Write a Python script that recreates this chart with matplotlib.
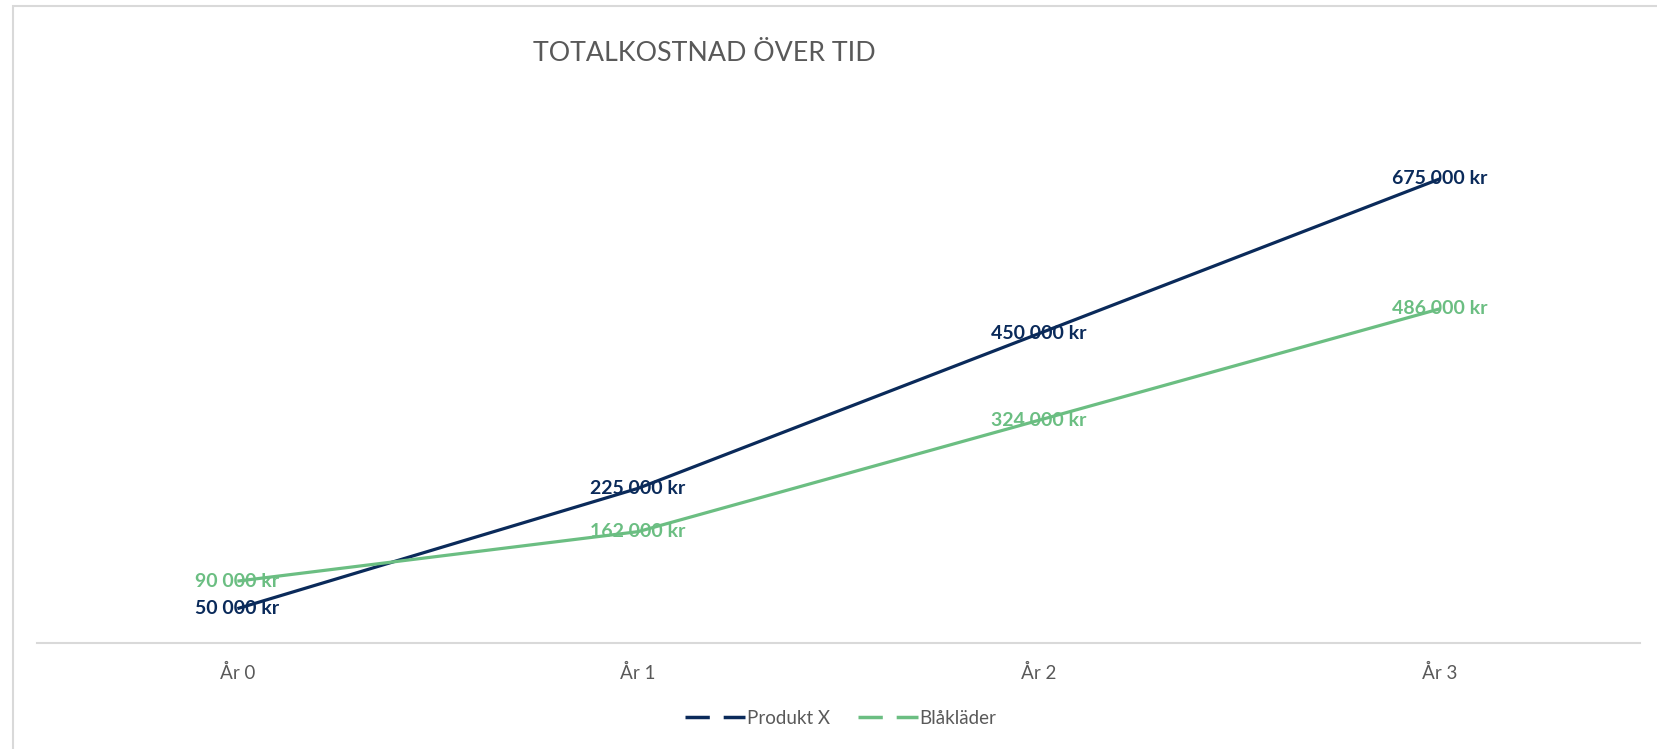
import matplotlib.pyplot as plt
from matplotlib.lines import Line2D
from matplotlib.patches import Rectangle

# data
years = ["År 0", "År 1", "År 2", "År 3"]
produkt_x = [50000, 225000, 450000, 675000]
blaklader = [90000, 162000, 324000, 486000]
series_names = ["Produkt X", "Blåkläder"]

navy = "#0A2A5A"
green = "#6BBE82"
grey_text = "#595959"
grey_line = "#D9D9D9"

plt.rcParams['font.family'] = ['Lato', 'DejaVu Sans']

fig = plt.figure(figsize=(16.58, 7.49), dpi=100)
ax = fig.add_axes([0.0223, 0.1415, 0.9668, 0.7343])

x = list(range(len(years)))
ax.plot(x, produkt_x, color=navy, lw=2.3, solid_capstyle='butt')
ax.plot(x, blaklader, color=green, lw=2.3, solid_capstyle='butt')

def fmt(v):
    return f"{v:,}".replace(",", " ") + " kr"

for xi, v in zip(x, produkt_x):
    ax.text(xi, v, fmt(v), color=navy, fontsize=14, fontweight='bold',
            ha='center', va='center')
for xi, v in zip(x, blaklader):
    ax.text(xi, v, fmt(v), color=green, fontsize=14, fontweight='bold',
            ha='center', va='center')

ax.set_xlim(-0.5, 3.5)
ax.set_ylim(0, 800000)
ax.set_xticks(x)
ax.set_xticklabels(years, fontsize=13.5, color=grey_text)
ax.tick_params(axis='x', length=0, pad=15)
ax.set_yticks([])
for side in ['top', 'right', 'left']:
    ax.spines[side].set_visible(False)
ax.spines['bottom'].set_color(grey_line)
ax.spines['bottom'].set_linewidth(1.5)

fig.text(0.425, 0.929, "TOTALKOSTNAD ÖVER TID", fontsize=19.3, color=grey_text,
         ha='center', va='center')

# legend
handles = [Line2D([], [], color=navy, lw=2.5, dashes=(7, 4)),
           Line2D([], [], color=green, lw=2.5, dashes=(7, 4))]
fig.legend(handles, series_names, loc='center', bbox_to_anchor=(0.507, 0.041),
           ncol=2, frameon=False, fontsize=13.5, labelcolor=grey_text,
           handlelength=3.2, handletextpad=0.1, columnspacing=1.5)

# outer chart border
fig.patches.append(Rectangle((13 / 1658, -0.01), 1.1, 1 - 5.5 / 749 + 0.01,
                             transform=fig.transFigure, fill=False,
                             edgecolor=grey_line, lw=1.5))

fig.savefig("out.png", dpi=100)
